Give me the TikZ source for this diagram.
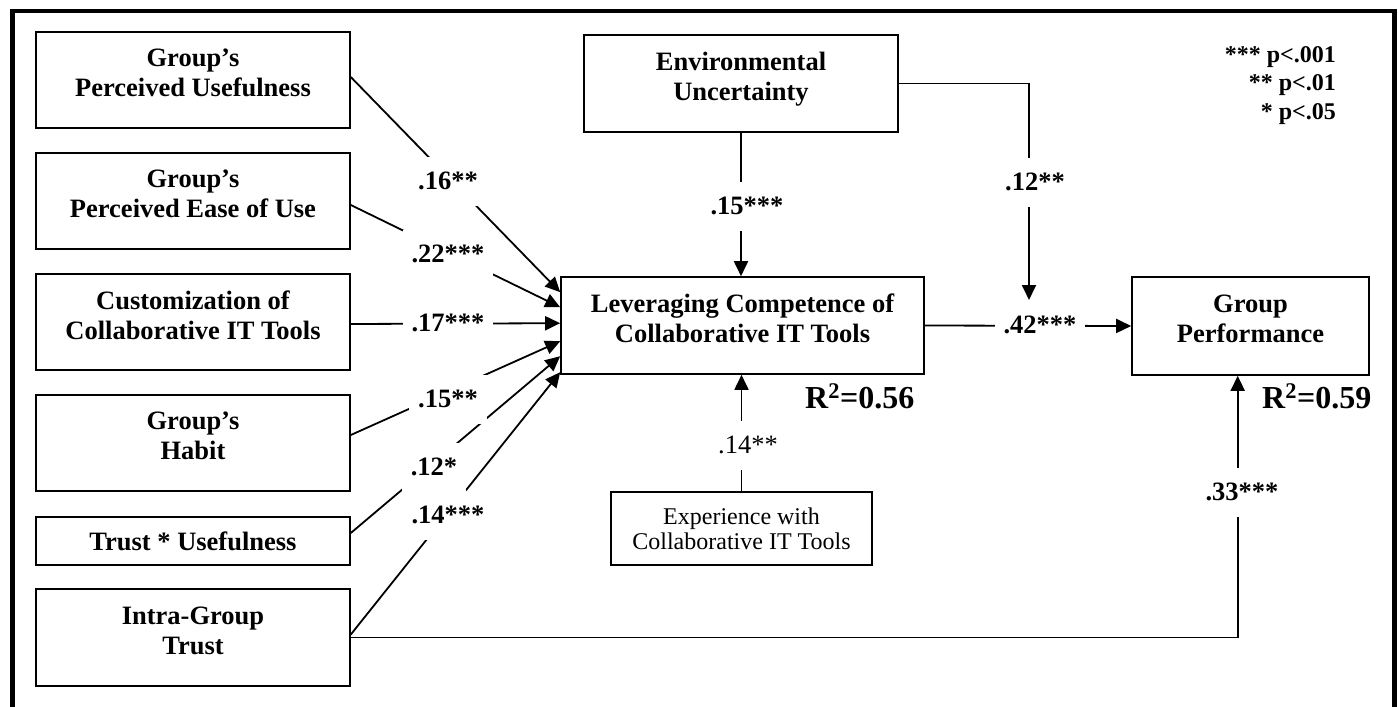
\documentclass[tikz,border=0pt]{standalone}
\usepackage{fontspec}
\setmainfont{Liberation Serif}
\usetikzlibrary{arrows.meta,calc}
\begin{document}
\begin{tikzpicture}[x=1pt,y=-1pt,
  box/.style={draw, line width=1.6pt, inner sep=0pt, align=center,
    font=\fontsize{26.5}{30}\selectfont\bfseries, text depth=14pt},
  conn/.style={line width=1.8pt, -{Triangle[length=15pt,width=14pt]}},
  lab/.style={fill=white, inner xsep=9pt, inner ysep=0pt, minimum height=49pt,
    font=\fontsize{26.5}{30}\selectfont\bfseries},
  labr/.style={lab, font=\fontsize{26.5}{30}\selectfont},
  rsq/.style={inner sep=0pt, anchor=base west, font=\fontsize{32}{36}\selectfont\bfseries},
]
\useasboundingbox (0,0) rectangle (1398,707);
\fill[white] (0,0) rectangle (1398,707);
\draw[line width=4.5pt] (12.5,720) -- (12.5,11) -- (1394.5,11) -- (1394.5,720);

% left boxes
\node[box, minimum width=314pt, minimum height=96pt] (pu) at (193,80) {Group’s\\Perceived Usefulness};
\node[box, minimum width=314pt, minimum height=96pt] (peu) at (193,201) {Group’s\\Perceived Ease of Use};
\node[box, minimum width=314pt, minimum height=96pt] (cu) at (193,322) {Customization of\\Collaborative IT Tools};
\node[box, minimum width=314pt, minimum height=96pt] (ha) at (193,443) {Group’s\\Habit};
\node[box, minimum width=314pt, minimum height=48pt, text depth=0pt] (tu) at (193,541) {Trust * Usefulness};
\node[box, minimum width=314pt, minimum height=97pt] (igt) at (193,637.5) {Intra-Group\\Trust};

% centre and right boxes
\node[box, minimum width=314pt, minimum height=97pt] (env) at (741,83.5) {Environmental\\Uncertainty};
\node[box, minimum width=363pt, minimum height=97pt] (lev) at (742.5,325.5) {Leveraging Competence of\\Collaborative IT Tools};
\node[box, minimum width=261pt, minimum height=73pt, text depth=0pt,
  font=\fontsize{24}{25}\selectfont] (exp) at (741.5,528.5) {Experience with\\Collaborative IT Tools};
\node[box, minimum width=237pt, minimum height=98pt] (gp) at (1250.5,326) {Group\\Performance};

\coordinate (m) at (1029,300);

% connectors
\draw[conn] ($(pu.east)+(0,-3)$) -- ($(lev.north west)+(0,16)$);
\draw[conn] ($(peu.east)+(0,4)$) -- ($(lev.north west)+(0,31)$);
\draw[conn] ($(cu.east)+(0,2)$) -- ($(lev.north west)+(0,47)$);
\draw[conn] ($(ha.east)+(0,-8)$) -- ($(lev.north west)+(0,65)$);
\draw[conn] ($(tu.east)+(0,-8)$) -- ($(lev.north west)+(0,80)$);
\draw[conn] ($(igt.east)+(0,-3)$) -- ($(lev.north west)+(0,96)$);
\draw[conn] (env.south) -- (env.south |- lev.north);
\draw[conn] (env.east) -| (m);
\draw[conn] (lev.east) -- (gp.west);
\draw[conn] (exp.north) -- (exp.north |- lev.south);
\draw[conn] (igt.east) -| ($(gp.south)+(-12.8,0)$);

% path labels
\node[lab] (l1) at (448,181) {.16**};
\node[lab] (l2) at (448,254) {.22***};
\node[lab] (l3) at (448,323) {.17***};
\node[lab] (l4) at (448,399) {.15**};
\node[lab] (l5) at (434,467) {.12*};
\node[lab] (l6) at (448,515) {.14***};
\node[lab] (l7) at (747,206) {.15***};
\node[lab] (l8) at (1035,182) {.12**};
\node[lab] (l9) at (1040,325) {.42***};
\node[labr] (l10) at (748,445) {.14**};
\node[lab] (l11) at (1242,492) {.33***};

% R squared
\node[rsq] (r1) at (805,408) {R\textsuperscript{2}=0.56};
\node[rsq] (r2) at (1262,408) {R\textsuperscript{2}=0.59};

% legend
\node[inner sep=0pt, anchor=north east, align=right,
  font=\fontsize{24}{28.5}\selectfont\bfseries] (leg) at (1336,46)
  {*** p<.001\\** p<.01\\* p<.05};
\end{tikzpicture}
\end{document}
